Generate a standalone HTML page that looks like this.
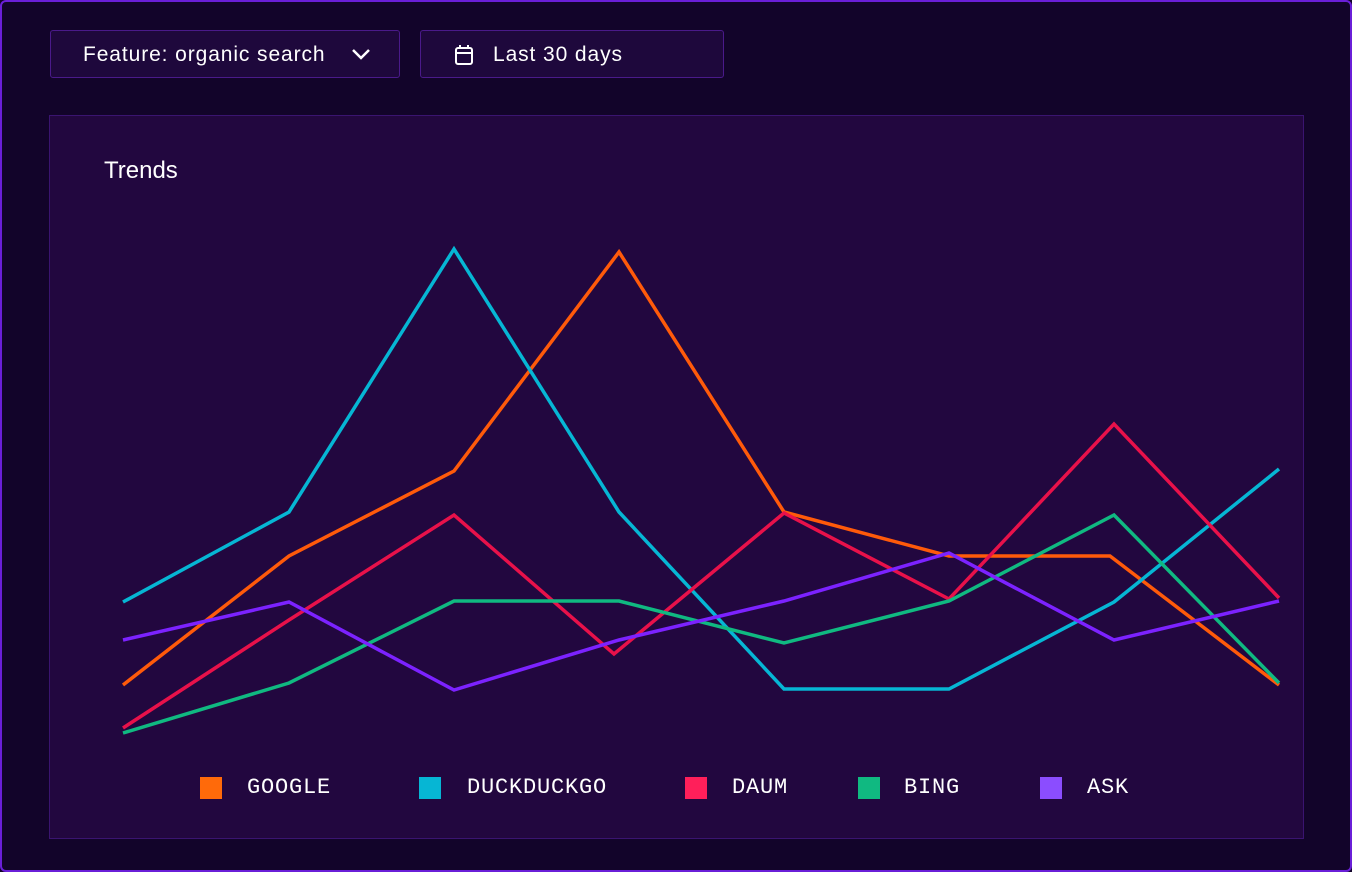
<!DOCTYPE html>
<html><head><style>
html,body{margin:0;padding:0;}
body{width:1352px;height:872px;background:#12042a;font-family:"Liberation Sans",sans-serif;position:relative;overflow:hidden;}
.frame{position:absolute;left:0;top:0;width:1348px;height:868px;border:2px solid #6a1fd8;border-radius:6px;background:#12042a;}
.btn{position:absolute;top:30px;height:48px;border:1.5px solid #4a1a8a;border-radius:3px;background:#1e083c;color:#fff;font-size:21px;line-height:48px;box-sizing:border-box;letter-spacing:0.9px;}
.panel{position:absolute;left:49px;top:115px;width:1255px;height:724px;background:#22073f;border:1px solid #3a1470;box-sizing:border-box;}
.title{position:absolute;left:104px;top:157px;color:#fff;font-size:24px;}
.leg{position:absolute;top:777px;font-family:"Liberation Mono",monospace;font-size:22px;color:#fff;line-height:22px;letter-spacing:0.8px;}
.sq{position:absolute;top:777px;width:22px;height:22px;}
</style></head><body>
<div class="frame"></div>
<div class="btn" style="left:50px;width:350px;padding-left:32px;">Feature: organic search
<svg style="position:absolute;left:300px;top:16px" width="20" height="14"><polyline points="2,3 10,11 18,3" fill="none" stroke="#fff" stroke-width="2.5"/></svg></div>
<div class="btn" style="left:420px;width:304px;padding-left:72px;">
<svg style="position:absolute;left:33px;top:13px" width="20" height="22"><rect x="2" y="4" width="16" height="16" rx="2" fill="none" stroke="#fff" stroke-width="2"/><line x1="2" y1="9" x2="18" y2="9" stroke="#fff" stroke-width="2"/><line x1="6" y1="1" x2="6" y2="5" stroke="#fff" stroke-width="2"/><line x1="14" y1="1" x2="14" y2="5" stroke="#fff" stroke-width="2"/></svg>Last 30 days</div>
<div class="panel"></div>
<div class="title">Trends</div>
<svg style="position:absolute;left:0;top:0" width="1352" height="872" fill="none" stroke-width="3.5" stroke-linejoin="miter">
<polyline stroke="#ff5a0a" points="123,685 289,556 454,471 619,252 784,512 949,556 1110,556 1279,685"/>
<polyline stroke="#06b6d4" points="123,602 289,512 454,249 619,512 784,689 949,689 1114,602 1279,469"/>
<polyline stroke="#e8114a" points="123,728 289,620 454,515 614,654 784,513 949,599 1114,424 1279,598"/>
<polyline stroke="#10b981" points="123,733 289,683 454,601 619,601 784,643 949,601 1114,515 1279,683"/>
<polyline stroke="#7c22ff" points="123,640 289,602 454,690 619,640 784,601 949,553 1114,640 1279,601"/>
</svg>
<div class="sq" style="left:200px;background:#ff6a0a"></div><div class="leg" style="left:247px">GOOGLE</div>
<div class="sq" style="left:419px;background:#06b6d4"></div><div class="leg" style="left:467px">DUCKDUCKGO</div>
<div class="sq" style="left:685px;background:#ff1f5a"></div><div class="leg" style="left:732px">DAUM</div>
<div class="sq" style="left:858px;background:#10b981"></div><div class="leg" style="left:904px">BING</div>
<div class="sq" style="left:1040px;background:#8b4dff"></div><div class="leg" style="left:1087px">ASK</div>
</body></html>
